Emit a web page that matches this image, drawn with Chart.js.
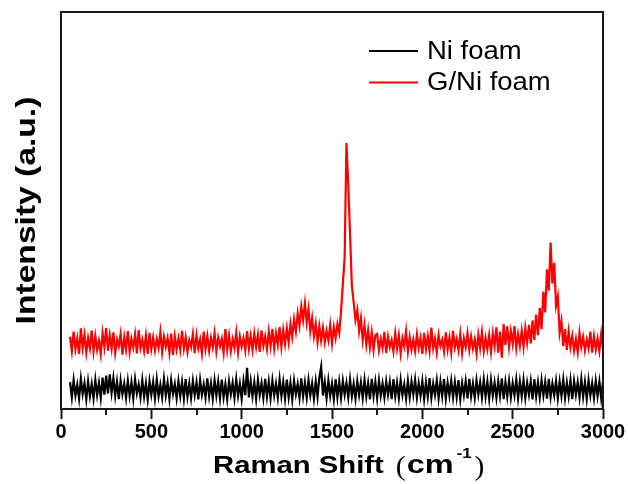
<!DOCTYPE html>
<html>
<head>
<meta charset="utf-8">
<script src="https://cdn.jsdelivr.net/npm/chart.js@4.4.0/dist/chart.umd.min.js"></script>
<style>
  html, body { margin: 0; padding: 0; background: #fff; }
  #wrap { width: 628px; height: 484px; }
</style>
</head>
<body>
<div id="wrap"><canvas id="chart" width="628" height="484"></canvas></div>
<script>
// Raman shift (cm-1), shared by both spectra
const shift = [
  50,60,70,80,90,100,110,120,130,140,
  150,160,170,180,190,200,210,220,230,240,
  250,260,270,280,290,300,310,320,330,340,
  350,360,370,380,390,400,410,420,430,440,
  450,460,470,480,490,500,510,520,530,540,
  550,560,570,580,590,600,610,620,630,640,
  650,660,670,680,690,700,710,720,730,740,
  750,760,770,780,790,800,810,820,830,840,
  850,860,870,880,890,900,910,920,930,940,
  950,960,970,980,990,1000,1010,1020,1030,1040,
  1050,1060,1070,1080,1090,1100,1110,1120,1130,1140,
  1150,1160,1170,1180,1190,1200,1210,1220,1230,1240,
  1250,1260,1270,1280,1290,1300,1310,1320,1330,1340,
  1350,1360,1370,1380,1390,1400,1410,1420,1430,1440,
  1450,1460,1470,1480,1490,1500,1510,1520,1530,1540,
  1550,1560,1570,1580,1590,1600,1610,1620,1630,1640,
  1650,1660,1670,1680,1690,1700,1710,1720,1730,1740,
  1750,1760,1770,1780,1790,1800,1810,1820,1830,1840,
  1850,1860,1870,1880,1890,1900,1910,1920,1930,1940,
  1950,1960,1970,1980,1990,2000,2010,2020,2030,2040,
  2050,2060,2070,2080,2090,2100,2110,2120,2130,2140,
  2150,2160,2170,2180,2190,2200,2210,2220,2230,2240,
  2250,2260,2270,2280,2290,2300,2310,2320,2330,2340,
  2350,2360,2370,2380,2390,2400,2410,2420,2430,2440,
  2450,2460,2470,2480,2490,2500,2510,2520,2530,2540,
  2550,2560,2570,2580,2590,2600,2610,2620,2630,2640,
  2650,2660,2670,2680,2690,2700,2710,2720,2730,2740,
  2750,2760,2770,2780,2790,2800,2810,2820,2830,2840,
  2850,2860,2870,2880,2890,2900,2910,2920,2930,2940,
  2950,2960,2970,2980,2990,3000
];

// bare Ni foam
const niFoam = [
  6.8,2.9,7.3,3.4,6.1,2.6,7.6,3.8,6.5,2.4,
  7.0,3.2,6.3,2.7,7.4,3.5,6.6,2.8,7.9,3.6,
  8.4,3.9,8.7,4.1,7.8,3.3,6.9,2.5,7.2,3.7,
  6.4,2.8,7.1,3.3,6.7,2.6,7.5,3.9,6.2,2.9,
  7.3,3.1,6.5,2.4,7.0,3.6,6.8,2.7,7.4,3.2,
  6.1,2.9,7.6,3.4,6.6,2.5,7.2,3.8,6.3,2.7,
  7.0,3.3,6.8,2.6,7.5,3.1,6.4,2.8,7.1,3.5,
  6.7,2.4,7.3,3.6,6.2,2.9,7.7,3.2,6.5,2.6,
  7.2,3.4,6.9,2.7,7.4,3.0,6.3,2.5,7.0,3.7,
  6.6,2.8,7.5,3.3,6.4,2.6,7.1,3.5,10.4,2.9,
  7.0,3.2,6.7,2.5,7.3,3.6,6.5,2.8,7.6,3.1,
  6.9,2.7,7.2,3.4,6.4,2.9,7.5,3.3,6.8,2.6,
  7.4,3.0,6.6,2.4,7.1,3.7,6.3,2.8,7.7,3.2,
  6.7,2.9,7.3,3.5,6.5,2.6,7.0,3.1,7.9,10.6,
  3.4,6.8,2.7,7.2,3.3,6.4,2.5,7.5,3.0,6.9,
  2.8,7.1,3.6,6.6,2.9,7.4,3.2,6.3,2.6,7.0,
  3.5,6.7,2.8,7.3,3.1,6.5,2.4,7.6,3.3,6.9,
  2.7,7.2,3.4,6.4,2.9,7.0,3.6,6.8,2.5,7.5,
  3.2,6.6,2.8,7.3,3.5,6.2,2.6,7.1,3.0,6.9,
  3.7,7.4,2.9,6.5,3.3,7.0,2.5,6.7,3.1,7.8,
  2.8,6.4,3.6,7.2,2.7,6.9,3.2,7.5,2.6,6.6,
  3.4,7.1,2.9,6.8,3.0,7.3,2.5,6.5,3.5,7.0,
  2.7,7.6,3.2,6.4,2.8,7.2,3.6,6.7,2.9,7.4,
  3.1,6.9,2.6,7.3,3.4,6.6,2.8,7.0,3.3,7.7,
  2.5,6.8,3.1,7.1,2.9,6.5,3.5,7.4,2.7,6.9,
  3.2,7.3,2.8,6.6,3.6,7.0,2.4,7.5,3.1,6.7,
  2.9,7.2,3.4,6.8,2.6,7.6,3.0,6.4,3.5,7.1,
  2.7,6.9,3.3,7.4,2.8,6.6,3.2,7.3,2.5,7.0,
  3.6,6.7,2.9,7.5,3.1,6.8,2.6,7.2,3.4,6.5,
  2.8,7.1,3.3,6.9,2.7,7.0
];

// graphene on Ni foam (D ~1350, G ~1580, 2D ~2710)
const gNiFoam = [
  18.2,14.6,19.5,15.1,17.8,13.9,20.3,15.4,18.7,14.2,
  17.9,15.3,19.8,14.5,18.4,14.9,17.2,13.8,19.1,15.6,
  20.4,14.7,18.6,15.2,19.3,14.1,17.5,15.8,18.9,13.7,
  18.1,15.0,19.6,14.4,17.7,15.5,18.8,14.0,19.9,15.3,
  17.4,14.6,18.5,13.9,19.2,15.1,18.0,14.8,17.6,15.4,
  19.4,14.3,18.2,15.7,17.9,14.2,19.0,13.6,18.3,15.0,
  17.8,14.9,19.7,15.2,18.1,14.4,17.3,15.6,18.9,14.1,
  18.6,15.3,17.5,14.0,19.5,15.1,18.4,14.7,17.9,15.5,
  19.1,14.5,18.0,15.8,17.7,14.2,20.1,15.0,18.5,14.6,
  17.6,15.4,19.3,14.3,18.2,15.7,17.8,14.8,19.6,15.2,
  18.4,14.9,19.0,15.6,18.7,14.4,19.8,15.9,18.3,15.1,
  19.5,15.8,20.2,15.3,19.1,16.2,20.6,15.7,19.9,16.4,
  20.3,16.8,21.4,18.2,22.6,19.5,24.1,21.0,25.8,22.4,
  26.6,21.8,25.2,19.6,22.9,18.3,21.5,16.9,20.8,17.2,
  20.4,16.8,19.7,17.3,21.2,16.5,20.6,17.9,21.4,19.2,
  24.6,31.5,38.2,67.0,56.5,44.0,31.0,26.8,22.4,24.9,
  19.6,22.8,17.4,21.1,16.2,19.8,15.5,19.3,14.9,18.6,
  18.9,14.8,17.6,15.3,19.4,14.1,18.2,15.6,17.3,14.5,
  19.0,15.2,18.5,14.0,17.8,15.7,19.6,14.4,18.1,15.0,
  17.5,14.6,18.8,15.4,17.9,13.9,19.2,15.1,18.3,14.7,
  20.5,15.3,17.7,14.2,18.6,15.8,17.4,14.5,19.3,15.0,
  18.0,14.3,19.7,15.5,17.6,14.8,18.9,14.1,17.8,15.6,
  19.1,14.9,18.2,15.2,17.5,14.0,18.7,15.4,19.4,14.6,
  17.9,15.1,18.6,14.4,19.0,15.8,20.6,14.2,19.5,12.9,
  21.4,16.1,20.8,15.7,19.6,16.4,20.9,15.3,18.8,15.9,
  19.7,15.6,20.4,16.8,21.2,16.5,22.3,17.4,23.8,18.6,
  25.4,20.1,29.6,24.3,35.2,29.8,41.9,31.6,36.8,26.0,
  28.3,19.2,22.1,15.8,20.1,14.9,19.5,15.6,18.4,14.7,
  17.6,14.3,19.2,15.6,18.1,14.7,17.4,15.3,19.5,14.2,
  18.3,15.0,17.7,14.6,18.9,15.2
];

const majorTicks = [0, 500, 1000, 1500, 2000, 2500, 3000];
const minorTicks = [250, 750, 1250, 1750, 2250, 2750];

const SANS = '"Liberation Sans", Arial, sans-serif';
const SERIF = '"Liberation Serif", "Times New Roman", serif';

// frame, minor ticks, legend and the two axis titles
const decor = {
  id: 'decor',
  afterDraw(chart) {
    const { ctx, chartArea: a, scales } = chart;
    ctx.save();
    ctx.strokeStyle = '#1a1a1a';
    ctx.lineWidth = 2;
    ctx.strokeRect(a.left, a.top, a.right - a.left, a.bottom - a.top);

    ctx.beginPath();
    minorTicks.forEach(v => {
      const px = Math.round(scales.x.getPixelForValue(v));
      ctx.moveTo(px, a.bottom);
      ctx.lineTo(px, a.bottom + 6);
    });
    ctx.stroke();

    // legend
    ctx.textBaseline = 'alphabetic';
    ctx.textAlign = 'left';
    ctx.font = '25px ' + SANS;
    chart.data.datasets.forEach((ds, i) => {
      const ly = 51 + i * 31.5;
      ctx.strokeStyle = ds.borderColor;
      ctx.lineWidth = 2;
      ctx.beginPath();
      ctx.moveTo(a.left + 308, ly);
      ctx.lineTo(a.left + 357, ly);
      ctx.stroke();
      ctx.save();
      ctx.translate(a.left + 366, ly + 7.5);
      ctx.scale(1.1, 1);
      ctx.fillStyle = '#000';
      ctx.fillText(ds.label, 0, 0);
      ctx.restore();
    });

    // y title
    ctx.fillStyle = '#000';
    ctx.save();
    ctx.translate(35, (a.top + a.bottom) / 2);
    ctx.rotate(-Math.PI / 2);
    ctx.scale(1.2, 1);
    ctx.textAlign = 'center';
    ctx.font = 'bold 28px ' + SANS;
    ctx.fillText(scales.y.options.title.text, 0, 0);
    ctx.restore();

    // x title: Raman Shift (cm-1) with superscript
    let x = a.left + 152;
    const base = 473;
    const part = (txt, font, sx, dy, gap) => {
      ctx.font = font;
      ctx.save();
      ctx.translate(x, base + dy);
      ctx.scale(sx, 1);
      ctx.fillText(txt, 0, 0);
      ctx.restore();
      x += ctx.measureText(txt).width * sx + gap;
    };
    const [main, unit] = scales.x.options.title.text.split(' (');
    part(main, 'bold 24px ' + SANS, 1.22, 0, 12);
    part('(', '27px ' + SERIF, 1.1, 2, 1);
    part(unit.replace('⁻¹)', ''), 'bold 25px ' + SANS, 1.3, 0, 3);
    part('-1', 'bold 14px ' + SANS, 1.2, -15, 3);
    part(')', '27px ' + SERIF, 1.1, 2, 0);
    ctx.restore();
  }
};

const ctx = document.getElementById('chart').getContext('2d');

new Chart(ctx, {
  type: 'line',
  data: {
    datasets: [
      {
        label: 'Ni foam',
        data: shift.map((x, i) => ({ x, y: niFoam[i] })),
        borderColor: '#000000',
        borderWidth: 2.2,
        pointRadius: 0,
        tension: 0,
      },
      {
        label: 'G/Ni foam',
        data: shift.map((x, i) => ({ x, y: gNiFoam[i] })),
        borderColor: '#ff0000',
        borderWidth: 2.2,
        pointRadius: 0,
        tension: 0,
      },
    ],
  },
  options: {
    responsive: false,
    animation: false,
    layout: { padding: { top: 12, right: 25, left: 0, bottom: 0 } },
    plugins: {
      legend: { display: false },
      tooltip: { enabled: false },
    },
    scales: {
      x: {
        type: 'linear',
        min: 0,
        max: 3000,
        afterBuildTicks: s => { s.ticks = majorTicks.map(v => ({ value: v })); },
        afterFit: s => { s.height = 75; },
        grid: { drawOnChartArea: false, tickLength: 10, tickWidth: 2, tickColor: '#1a1a1a' },
        border: { display: false },
        ticks: {
          color: '#000',
          padding: 1,
          maxRotation: 0,
          autoSkip: false,
          callback: v => String(v),
          font: { family: SANS, size: 20, weight: 'bold' },
        },
        title: { display: false, text: 'Raman Shift (cm⁻¹)' },
      },
      y: {
        min: 0,
        max: 100,
        afterFit: s => { s.width = 61; },
        ticks: { display: false },
        grid: { display: false },
        border: { display: false },
        title: { display: false, text: 'Intensity (a.u.)' },
      },
    },
  },
  plugins: [decor],
});
</script>
</body>
</html>
